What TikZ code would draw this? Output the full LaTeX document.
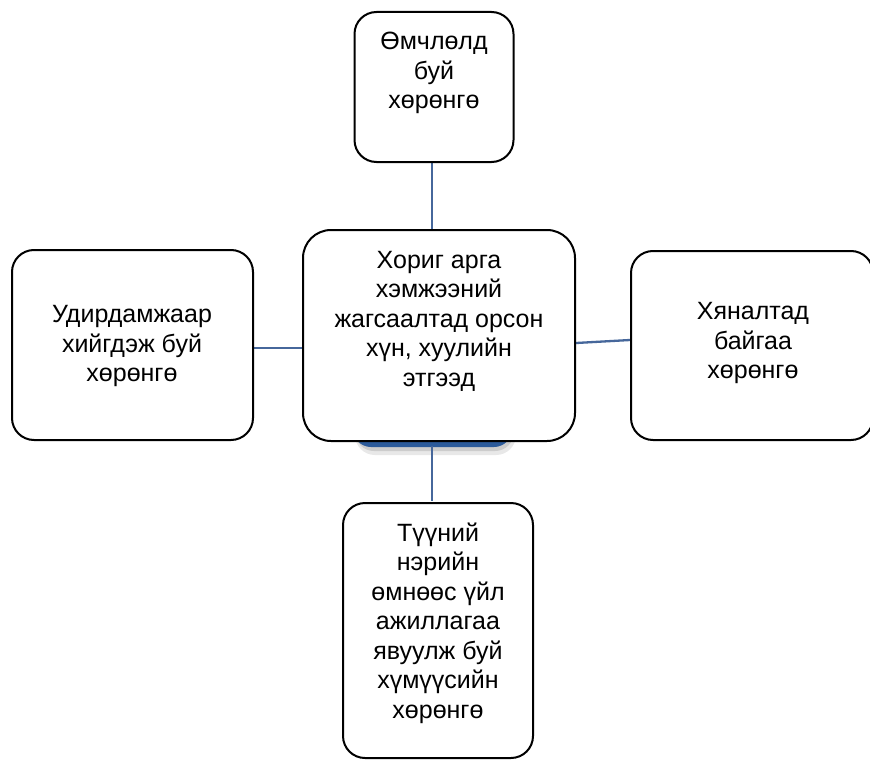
\documentclass[tikz,border=0pt]{standalone}
\usepackage{fontspec}
\setmainfont{Liberation Sans}
\usetikzlibrary{backgrounds}
\begin{document}
\begin{tikzpicture}[x=1pt,y=-1pt,
  box/.style={draw=black,line width=2pt,rounded corners=22pt,fill=white},
  txt/.style={align=center,font=\fontsize{25}{29.5}\selectfont,inner sep=0pt},
  link/.style={draw=linkblue,line width=2.3pt}]
\definecolor{linkblue}{HTML}{46679B}
\definecolor{hidblue}{HTML}{2B5A9A}
\useasboundingbox (0,0) rectangle (870,760);
\clip (0,0) rectangle (870,760);
% hidden blue shape with soft shadow
\fill[gray!18,rounded corners=20pt] (355,404) rectangle (516,455);
\fill[gray!40,rounded corners=19pt] (355,403) rectangle (514,451);
\fill[hidblue,rounded corners=18pt] (353,400) rectangle (512,447);
% boxes
\node[box,minimum width=159pt,minimum height=150pt] (top) at (434,87) {};
\node[box,minimum width=241pt,minimum height=190pt] (left) at (132.5,345) {};
\node[box,minimum width=242pt,minimum height=189pt] (right) at (752,345.5) {};
\node[box,minimum width=190pt,minimum height=255pt] (bottom) at (438,630.5) {};
\node[box,rounded corners=28pt,minimum width=272pt,minimum height=211pt] (center) at (439,335.5) {};
% texts
\node[txt] (ttop) at (434,73) {Өмчлөлд\\буй\\хөрөнгө};
\node[txt] (tcenter) at (439,321) {Хориг арга\\хэмжээний\\жагсаалтад орсон\\хүн, хуулийн\\этгээд};
\node[txt] (tleft) at (132,346) {Удирдамжаар\\хийгдэж буй\\хөрөнгө};
\node[txt] (tright) at (753,343) {Хяналтад\\байгаа\\хөрөнгө};
\node[txt] (tbottom) at (438,623) {Түүний\\нэрийн\\өмнөөс үйл\\ажиллагаа\\явуулж буй\\хүмүүсийн\\хөрөнгө};
% connectors
\coordinate (hb) at (432,446);
\draw[link] (hb) -- ([yshift=1pt]hb |- bottom.north);
\begin{pgfonlayer}{background}
\fill[white] (0,0) rectangle (870,760);
\draw[link] ([xshift=-2pt]top.south) -- ([xshift=-2pt]top.south |- center.north);
\draw[link] ([yshift=-3pt]left.east) -- ([yshift=-3pt]left.east -| center.west);
\draw[link] ([yshift=-7.5pt]center.east) -- ([yshift=5.5pt]right.west);
\end{pgfonlayer}
\end{tikzpicture}
\end{document}
